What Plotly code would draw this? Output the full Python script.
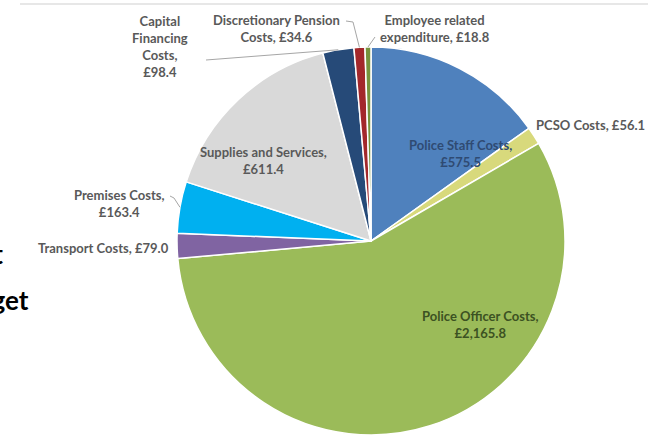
import math
import plotly.graph_objects as go

# Budget breakdown (£m), in clockwise order from 12 o'clock
categories = [
    "Police Staff Costs", "PCSO Costs", "Police Officer Costs", "Transport Costs",
    "Premises Costs", "Supplies and Services", "Capital Financing Costs",
    "Discretionary Pension Costs", "Employee related expenditure",
]
values = [575.5, 56.1, 2165.8, 79.0, 163.4, 611.4, 98.4, 34.6, 18.8]
colors = ["#4F81BD", "#D8D97C", "#9BBB59", "#8064A2", "#00B0F0",
          "#D9D9D9", "#264A78", "#A3282B", "#76933C"]

# How each label's name is wrapped, and what separates name and value
name_wrap = [
    "Police Staff Costs", "PCSO Costs", "Police Officer Costs", "Transport Costs",
    "Premises Costs", "Supplies and Services", "Capital<br>Financing<br>Costs",
    "Discretionary Pension<br>Costs", "Employee related<br>expenditure",
]
value_sep = ["<br>", " ", "<br>", " ", "<br>", "<br>", "<br>", " ", " "]

W, H = 648, 435
# pie domain in pixels
px0, px1 = 177, 565
py_top = 47
cx = (px0 + px1) / 2
r = (px1 - px0) / 2
cy = py_top + r

# label centres (pixels) and text colours
label_pos = [(460, 153), (590, 125), (480, 324), (103, 248), (119, 203),
             (263, 160), (160, 46), (276, 28), (435, 28)]
label_col = ["#2F4B73", "#595959", "#3C5222", "#595959", "#595959",
             "#595959", "#595959", "#595959", "#595959"]
# leader line starting points (pixels); None when there is no line
leader_start = [None, None, None, None, [(170, 196), (174, 198)],
                None, [(206, 60)], [(346, 21), (353, 22)], [(375, 37)]]

fig = go.Figure(go.Pie(
    labels=categories, values=values, sort=False, direction="clockwise",
    rotation=0,
    marker=dict(colors=colors, line=dict(color="white", width=1.5)),
    textinfo="none", hoverinfo="label+value", showlegend=False,
    domain=dict(x=[px0 / W, px1 / W], y=[0, (H - py_top) / H]),
))

def to_paper(x, y):
    return x / W, 1 - y / H

total = sum(values)
cum = 0.0
for i, v in enumerate(values):
    mid = (cum + v / 2) / total * 2 * math.pi
    cum += v
    text = f"<b>{name_wrap[i]},{value_sep[i]}£{v:,.1f}</b>"
    lx, ly = to_paper(*label_pos[i])
    fig.add_annotation(
        x=lx, y=ly, xref="paper", yref="paper", text=text, showarrow=False,
        xanchor="center", yanchor="middle", align="center",
        font=dict(family="Lato", size=13, color=label_col[i]),
    )
    if leader_start[i]:
        ex, ey = cx + r * math.sin(mid), cy - r * math.cos(mid)
        pts = leader_start[i] + [(ex, ey)]
        path = "M " + " L ".join(f"{to_paper(x, y)[0]},{to_paper(x, y)[1]}" for x, y in pts)
        fig.add_shape(type="path", path=path, xref="paper", yref="paper",
                      line=dict(color="#A6A6A6", width=1))

# title running in from the left margin
fig.add_annotation(x=5 / W, y=1 - 254 / H, xref="paper", yref="paper",
                   text="<b>2017/18 Net</b>", showarrow=False,
                   xanchor="right", yanchor="middle",
                   font=dict(family="Lato", size=26, color="#000000"))
fig.add_annotation(x=31 / W, y=1 - 300 / H, xref="paper", yref="paper",
                   text="<b>Revenue Budget</b>", showarrow=False,
                   xanchor="right", yanchor="middle",
                   font=dict(family="Lato", size=26, color="#000000"))

# thin rule along the top
fig.add_shape(type="line", x0=20 / W, x1=1, y0=1 - 4 / H, y1=1 - 4 / H,
              xref="paper", yref="paper", line=dict(color="#D0D0D0", width=1.2))

fig.update_layout(
    width=W, height=H, margin=dict(l=0, r=0, t=0, b=0),
    paper_bgcolor="white", plot_bgcolor="white",
)
fig.write_html("out.html")
